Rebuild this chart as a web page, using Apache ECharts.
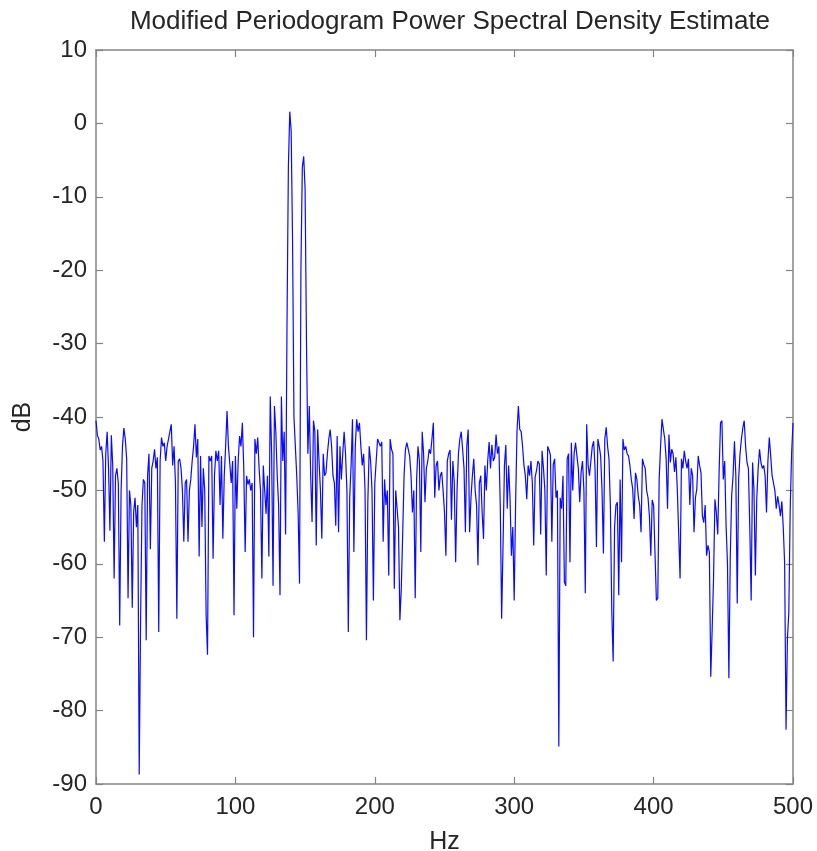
<!DOCTYPE html>
<html>
<head>
<meta charset="utf-8">
<script src="https://cdn.jsdelivr.net/npm/echarts@6/dist/echarts.min.js"></script>
<style>html,body{margin:0;padding:0;background:#fff;}#chart{width:817px;height:851px;}</style>
</head>
<body>
<div id="chart"></div>
<script>
// Frequency bins (Hz), 1 Hz spacing
const freqStart = 0;
const freqStep = 1;
// Power spectral density (dB), one per Hz from 0 to 500
const psdDb = [
-40.5,-42.5,-43,-44.5,-44,-46,-57,-45,-42,-47,
-55.5,-42.5,-46.6,-62,-48,-47,-49,-68.4,-50,-44,
-41.5,-43,-45.7,-64.7,-50,-52,-66,-53,-51,-55,
-52,-88.7,-67.5,-52,-48.5,-49,-70.4,-48,-45,-58,
-47,-46,-44.4,-47,-45.5,-69.3,-46,-42.8,-44,-43.5,
-46,-44,-43,-42,-41,-46.6,-44,-49,-67.5,-46,
-45.7,-47,-50,-57,-49,-48.5,-57,-50,-48.5,-46,
-44,-41,-45.5,-43,-59,-45.3,-55,-47,-50,-67,
-72.4,-45.3,-46,-45.3,-59.3,-48,-44.6,-46,-44.6,-52,
-45.3,-56.6,-48,-44,-39.2,-44,-46.4,-49,-46,-67,
-45.3,-52.5,-46,-42.6,-44,-40.8,-47,-58.4,-48,-49.2,
-48.5,-50,-49,-70,-43,-45,-42.8,-47,-50,-62,
-46.6,-50,-53.2,-48,-59,-37.2,-45,-63,-38.5,-42,
-48,-52,-64.3,-37.2,-46,-42,-56,-28,-6,1.6,
-1,-16,-40,-44,-48,-53,-62.7,-20,-6,-4.5,
-9,-30,-45,-38.5,-48,-54.3,-40.5,-42,-57.5,-41.7,
-46,-50,-56.6,-45,-48,-47.6,-45,-43,-41.7,-44,
-48,-49,-54.8,-42.6,-55.7,-44,-48.5,-45,-42,-45,
-50,-69.3,-51,-46.6,-40.3,-58.4,-44,-40.3,-42,-40.8,
-44,-46.6,-45,-50,-70.4,-51.6,-44,-46,-50,-65,
-49,-46,-43,-43,-44,-43.4,-57,-48.5,-52,-50,
-61.6,-43,-44.4,-45,-63.4,-50,-52.5,-55,-67.7,-63.4,
-56,-48,-44.4,-43.5,-43.4,-45.3,-48,-53,-50,-64.7,
-48.5,-44,-46,-58.4,-42,-45,-51.6,-47,-46,-44.4,
-45,-43,-40.8,-51,-46.6,-46,-50,-48,-47.5,-50,
-53,-58.9,-46,-45,-44.5,-54,-46,-49,-59.8,-50,
-45,-43,-42,-44.4,-47,-55.7,-44,-41.7,-55.7,-51,
-48,-45.7,-50,-52,-60.2,-49,-48,-53,-56.6,-46.6,
-50,-46,-43.4,-47,-43.8,-46,-45.5,-42.4,-45,-44,
-52,-67.5,-57.5,-46.6,-43.8,-52.5,-46.6,-51,-58.9,-55,
-65,-52,-42,-38.5,-41.7,-42,-44,-46.6,-48,-51.2,
-46.6,-48,-46,-49,-57.5,-48.2,-47.3,-46,-46.4,-56,
-44.6,-47,-50,-61.6,-44,-44.5,-45.2,-57,-46.5,-45.7,
-51,-50,-84.9,-51,-52.5,-48,-62.5,-63,-45.7,-45,
-59.8,-43.5,-50,-45,-43.5,-45.3,-47,-51.6,-47.5,-46,
-50,-64,-41,-46.6,-48,-48,-44,-43.3,-47,-57.7,
-43,-44,-45.3,-50,-58.6,-43,-41.4,-44,-45.7,-52.2,
-66.5,-73.3,-55,-52,-51.6,-64.3,-48.5,-59.8,-43,-44.5,
-44,-45,-45.3,-46.6,-48.5,-49.8,-53.9,-47.6,-48.5,-50.8,
-52,-55.7,-45.7,-46.5,-47,-50,-51,-53.5,-58.9,-51.3,
-52,-52.2,-65,-64.7,-48.5,-44,-40.3,-40.3,-43,-45.7,
-52.5,-42.4,-46.2,-44.4,-45,-47.5,-45.5,-49.8,-50,-62,
-45.7,-47,-44.6,-46,-47,-45.7,-52,-47,-48,-55.7,
-51,-49.8,-45.3,-46.6,-47.6,-53.5,-54.4,-52,-58.9,-57.5,
-58.4,-75.4,-69,-62,-51.2,-53,-56,-47.5,-40.8,-40.5,
-48.5,-46,-54.8,-60,-75.6,-59,-50.7,-48,-43.3,-48,
-65.4,-48.5,-45,-43,-41.5,-40.5,-44,-46.2,-47,-55,
-65,-46.2,-50,-61.6,-51.2,-47,-44.4,-46.2,-47,-46.6,
-48,-53,-46,-42.8,-45.3,-48,-48,-50,-52.5,-50.8,
-52,-53.5,-51.5,-55,-60,-82.6,-70.2,-66.6,-52.5,-45,
-40.8
];
const xTicks = [0, 100, 200, 300, 400, 500];
const yTicks = [-90, -80, -70, -60, -50, -40, -30, -20, -10, 0, 10];

const seriesData = psdDb.map((v, i) => [freqStart + i * freqStep, v]);

const chart = echarts.init(document.getElementById('chart'), null, {renderer: 'canvas'});
const font = 'Liberation Sans, Arial, sans-serif';
const axisCol = '#858585';
const textCol = '#262626';
function axisBase() {
  return {
    axisLine: {show: true, onZero: false, lineStyle: {color: axisCol, width: 1.5}},
    axisTick: {show: true, inside: true, length: 7, lineStyle: {color: axisCol, width: 1.2}},
    splitLine: {show: false}
  };
}
chart.setOption({
  animation: false,
  backgroundColor: '#ffffff',
  title: {
    text: 'Modified Periodogram Power Spectral Density Estimate',
    left: 445, top: 4, textAlign: 'center',
    textStyle: {fontFamily: font, fontSize: 26, fontWeight: 'normal', color: textCol}
  },
  grid: {left: 96, right: 24, top: 50, bottom: 67, containLabel: false, outerBoundsMode: 'none'},
  xAxis: [
    Object.assign(axisBase(), {
      type: 'value', position: 'bottom', min: xTicks[0], max: xTicks[xTicks.length - 1], interval: 100,
      name: 'Hz', nameLocation: 'middle', nameGap: 46,
      nameTextStyle: {fontFamily: font, fontSize: 25, color: textCol},
      axisLabel: {fontFamily: font, fontSize: 24, color: textCol, margin: 11}
    }),
    Object.assign(axisBase(), {
      type: 'value', position: 'top', min: xTicks[0], max: xTicks[xTicks.length - 1], interval: 100,
      axisLabel: {show: false}
    })
  ],
  yAxis: [
    Object.assign(axisBase(), {
      type: 'value', position: 'left', min: yTicks[0], max: yTicks[yTicks.length - 1], interval: 10,
      name: 'dB', nameLocation: 'middle', nameGap: 60, nameRotate: 90,
      nameTextStyle: {fontFamily: font, fontSize: 25, color: textCol},
      axisLabel: {fontFamily: font, fontSize: 24, color: textCol, margin: 9}
    }),
    Object.assign(axisBase(), {
      type: 'value', position: 'right', min: yTicks[0], max: yTicks[yTicks.length - 1], interval: 10,
      axisLabel: {show: false}
    })
  ],
  series: [{
    type: 'line',
    data: seriesData,
    xAxisIndex: 0, yAxisIndex: 0,
    showSymbol: false, symbol: 'none',
    lineStyle: {color: '#0a0aff', width: 1.2},
    clip: true
  }]
});
</script>
</body>
</html>
